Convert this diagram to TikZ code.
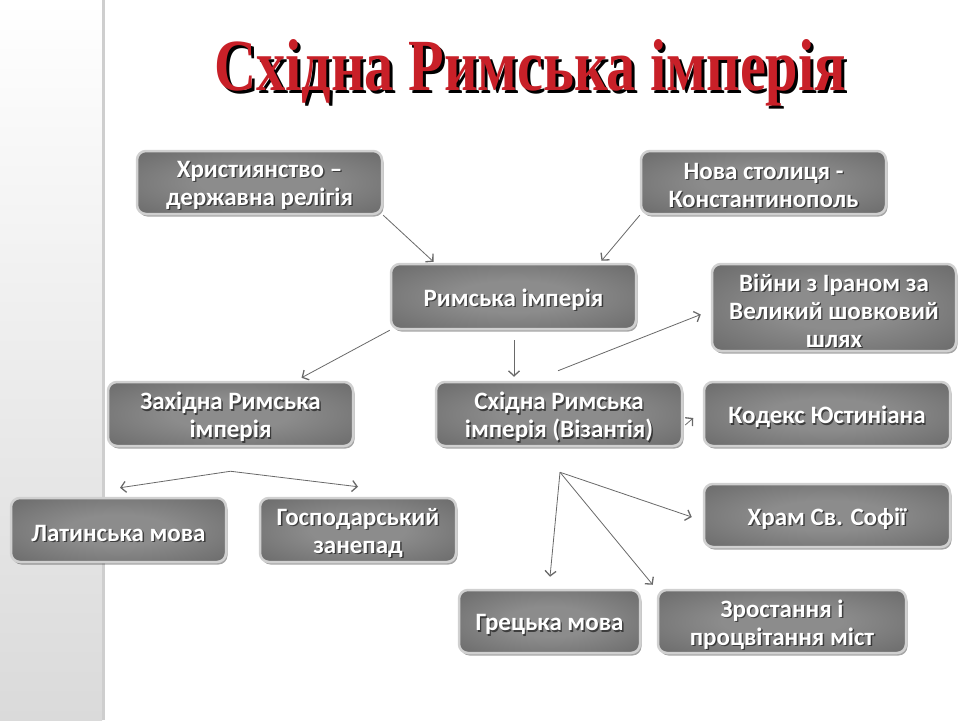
\documentclass[tikz,border=0pt]{standalone}
\usepackage{fontspec}
\setmainfont{Carlito}
\newfontfamily\titlefont{Liberation Serif}
\usetikzlibrary{shadows,arrows.meta}
\definecolor{boxin}{RGB}{140,140,140}
\definecolor{boxout}{RGB}{90,90,90}
\definecolor{boxrim}{RGB}{208,208,208}
\definecolor{arrgray}{RGB}{105,105,105}
\definecolor{titlered}{RGB}{200,32,40}
\definecolor{panel}{RGB}{218,218,218}
\definecolor{panelline}{RGB}{206,206,206}
\pgfdeclareradialshading{boxshade}{\pgfpoint{0bp}{0bp}}{%
  color(0bp)=(boxin); color(12bp)=(boxin); color(48bp)=(boxout); color(50bp)=(boxout)}
\tikzset{
  boxsty/.style={rounded corners=9pt, draw=boxrim, line width=2.5pt,
    shading=boxshade, inner sep=0pt,
    drop shadow={shadow xshift=1.5pt, shadow yshift=-2.5pt, opacity=0.35, fill=black}},
  wtext/.style={text=white, align=center, inner sep=0pt,
    font=\bfseries\fontsize{25}{28}\selectfont},
  shtext/.style={wtext, text=black, text opacity=0.55},
  arr/.style={draw=arrgray, line width=0.8pt,
    -{Straight Barb[length=5pt,width=11pt,line width=1.3pt]}},
}
\newcommand\bx[6]{%
  \node[boxsty, minimum width=#4pt, minimum height=#5pt] (#1) at (#2,#3) {};
  \node[shtext] (#1-s) at ([xshift=1.4pt,yshift=-4.4pt]#1.center) {#6};
  \node[wtext] (#1-t) at ([yshift=-3pt]#1.center) {#6};
}
\begin{document}
\begin{tikzpicture}[x=1pt,y=-1pt]
\useasboundingbox (0,0) rectangle (960,720);
\fill[white] (0,0) rectangle (960,720);
\shade[top color=white, bottom color=panel] (0,0) rectangle (102,720);
\draw[panelline, line width=3pt] (103.5,0) -- (103.5,720);

% title
\node[anchor=base west, inner sep=0pt, text=black] (title-s) at (217,93)
  {\resizebox{632pt}{51pt}{\titlefont\bfseries Східна Римська імперія}};
\node[anchor=base west, inner sep=0pt, text=titlered] (title) at (214,90)
  {\resizebox{632pt}{51pt}{\titlefont\bfseries Східна Римська імперія}};

% boxes
\bx{b1}{259.5}{182.5}{245}{63}{Християнство –\\державна релігія}
\bx{b2}{763.5}{182.5}{245}{63}{Нова столиця -\\Константинополь}
\bx{b3}{513.5}{296.5}{245}{65}{Римська імперія}
\bx{b4}{834}{307.5}{244}{87}{Війни з Іраном за\\Великий шовковий\\шлях}
\bx{b5}{230.5}{414}{245}{64}{Західна Римська\\імперія}
\bx{b6}{559}{414}{246}{64}{Східна Римська\\імперія (Візантія)}
\bx{b7}{827}{414}{246}{64}{Кодекс Юстиніана}
\bx{b8}{118.5}{530}{215}{64}{Латинська мова}
\bx{b9}{358}{530}{196}{64}{Господарський\\занепад}
\bx{b10}{827}{515.5}{246}{63}{Храм Св. Софії}
\bx{b11}{549.5}{621.5}{181}{63}{Грецька мова}
\bx{b12}{782}{621.5}{248}{63}{Зростання і\\процвітання міст}

% connectors
\draw[arr] (b1.south east) -- ([xshift=-80pt,yshift=1pt]b3.north);
\draw[arr] (b2.south west) -- ([xshift=88pt,yshift=2pt]b3.north);
\draw[arr] (b3.south west) -- ([xshift=71pt,yshift=3pt]b5.north);
\draw[arr] ([xshift=0.5pt,yshift=-10pt]b3.south) -- ([xshift=-45pt,yshift=4pt]b6.north);
\draw[arr] ([xshift=-1pt,yshift=10pt]b6.north) -- ([xshift=-10pt,yshift=-7pt]b4.west);
\draw[arr] ([xshift=2pt,yshift=-11pt]b6.east) -- ([xshift=10pt,yshift=-4pt]b6.east);

\coordinate (w0) at ([yshift=-24pt]b5.south);
\draw[arr] (w0) -- ([xshift=1.5pt,yshift=9pt]b8.north);
\draw[arr] (w0) -- ([yshift=10pt]b9.north);

\coordinate (e0) at ([xshift=1pt,yshift=-25pt]b6.south);
\draw[arr] (e0) -- ([xshift=0.5pt,yshift=12pt]b11.north);
\draw[arr] (e0) -- ([xshift=-4pt,yshift=4pt]b12.north west);
\draw[arr] (e0) -- ([xshift=-11pt,yshift=-1.5pt]b10.west);
\end{tikzpicture}
\end{document}
